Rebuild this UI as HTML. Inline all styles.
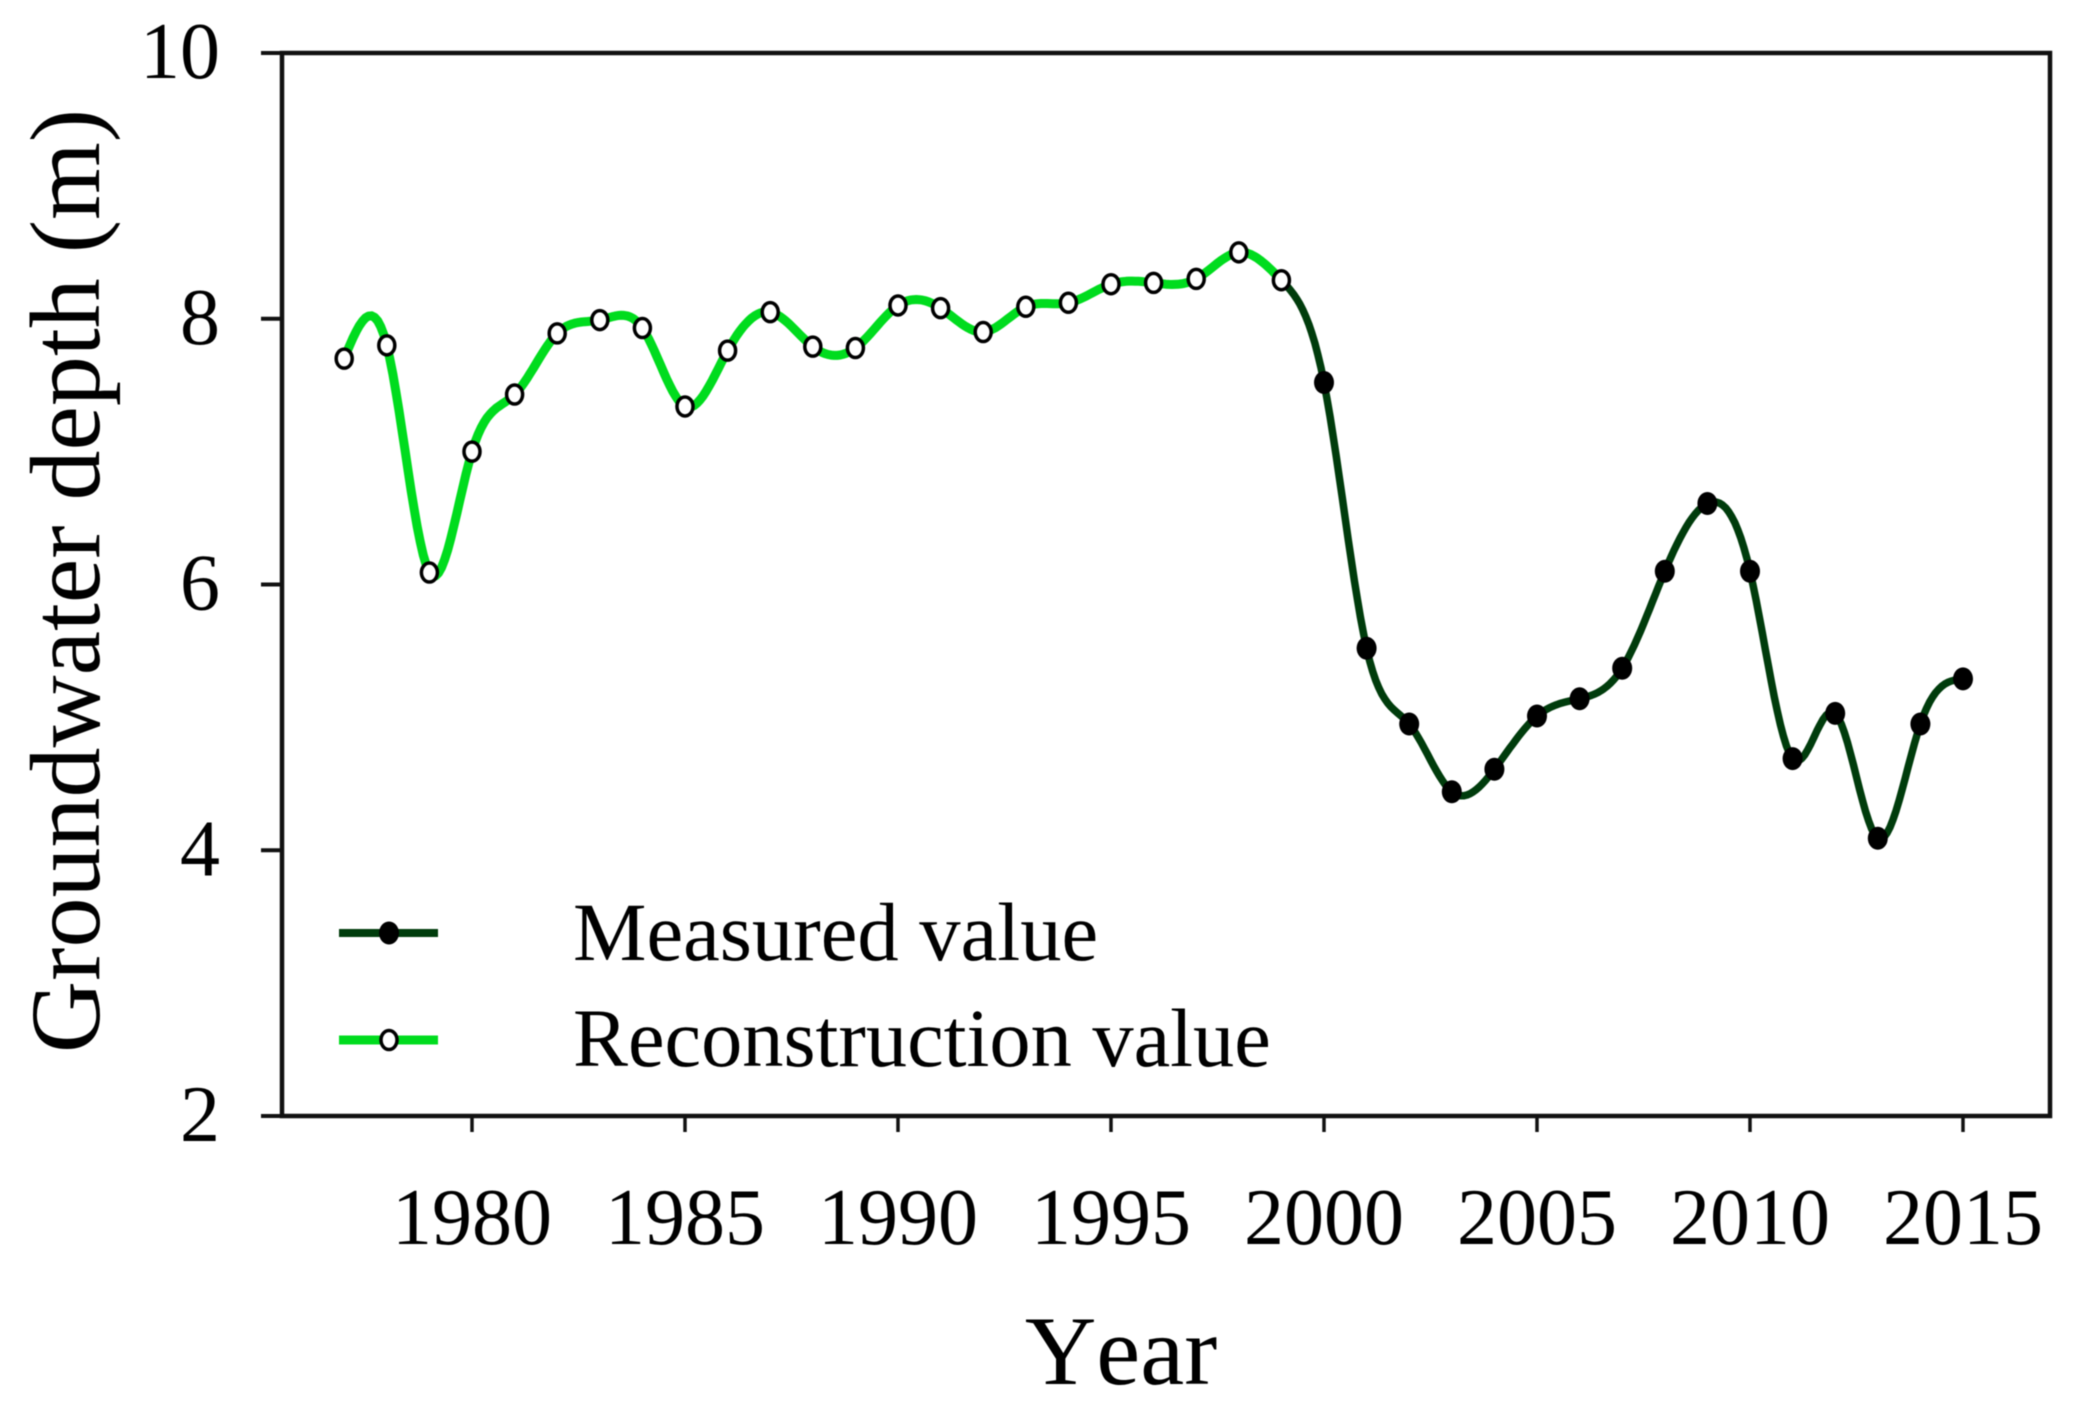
<!DOCTYPE html>
<html lang="en">
<head>
<meta charset="utf-8">
<title>Groundwater depth</title>
<style>
html,body{margin:0;padding:0;background:#fff;width:2074px;height:1409px;overflow:hidden}
svg{display:block;filter:blur(0.6px)}
text{font-family:"Liberation Serif",serif;fill:#000}
</style>
</head>
<body>
<svg id="chart" xmlns="http://www.w3.org/2000/svg" width="2074" height="1409" viewBox="0 0 2074 1409">
  <rect x="282" y="53" width="1768" height="1063" fill="#fff" stroke="#111" stroke-width="4.5"/>
  <g id="grid-ticks"></g>
  <g id="series"></g>
  <text transform="translate(99,581) rotate(-90)" text-anchor="middle" font-size="100">Groundwater depth (m)</text>
  <text x="1121" y="1384" text-anchor="middle" font-size="99" style="font-kerning:none">Year</text>
  <g>
    <g>
      <line x1="339" y1="933" x2="438" y2="933" stroke="#003c0c" stroke-width="8"/>
      <ellipse cx="389" cy="933" rx="10" ry="11.5" fill="#000"/>
      <text x="573" y="960" font-size="82.6">Measured value</text>
    </g>
    <g>
      <line x1="339" y1="1040" x2="438" y2="1040" stroke="#00dc1e" stroke-width="9"/>
      <ellipse cx="389" cy="1040" rx="8" ry="9.5" fill="#fff" stroke="#000" stroke-width="3.5"/>
      <text x="573" y="1066" font-size="82.4">Reconstruction value</text>
    </g>
  </g>
</svg>
<script>
const reconstructionYears = [1977,1978,1979,1980,1981,1982,1983,1984,1985,1986,1987,1988,1989,1990,1991,1992,1993,1994,1995,1996,1997,1998,1999];
const reconstructionValues = [7.70,7.80,6.09,7.00,7.43,7.89,7.99,7.93,7.34,7.76,8.05,7.79,7.78,8.10,8.08,7.90,8.09,8.12,8.26,8.27,8.30,8.50,8.29];
const measuredYears = [2000,2001,2002,2003,2004,2005,2006,2007,2008,2009,2010,2011,2012,2013,2014,2015];
const measuredValues = [7.52,5.52,4.95,4.44,4.61,5.01,5.14,5.37,6.10,6.61,6.10,4.69,5.03,4.09,4.95,5.29];
const xTickLabels = [1980,1985,1990,1995,2000,2005,2010,2015];
const yTickLabels = [2,4,6,8,10];

const SVG_NS = 'http://www.w3.org/2000/svg';
function xScale(year){ return 472 + (year - 1980) * 42.6; }
function yScale(v){ return 1116 - (v - 2) * 132.875; }

function make(tag, attrs, parent){
  const el = document.createElementNS(SVG_NS, tag);
  for (const k in attrs) el.setAttribute(k, attrs[k]);
  parent.appendChild(el);
  return el;
}

/* natural cubic spline through all points */
function spline(xs, ys){
  const n = xs.length, h = [], a = [0], c = new Array(n).fill(0), l = [1], mu = [0], z = [0];
  for (let i = 0; i < n - 1; i++) h.push(xs[i + 1] - xs[i]);
  for (let i = 1; i < n - 1; i++){
    a[i] = 3 * (ys[i + 1] - ys[i]) / h[i] - 3 * (ys[i] - ys[i - 1]) / h[i - 1];
    l[i] = 2 * (xs[i + 1] - xs[i - 1]) - h[i - 1] * mu[i - 1];
    mu[i] = h[i] / l[i];
    z[i] = (a[i] - h[i - 1] * z[i - 1]) / l[i];
  }
  for (let j = n - 2; j > 0; j--) c[j] = z[j] - mu[j] * c[j + 1];
  return function(x){
    let i = Math.min(n - 2, Math.max(0, xs.findIndex(v => v > x) - 1));
    if (x >= xs[n - 1]) i = n - 2;
    const d = x - xs[i];
    const b = (ys[i + 1] - ys[i]) / h[i] - h[i] * (c[i + 1] + 2 * c[i]) / 3;
    const e = (c[i + 1] - c[i]) / (3 * h[i]);
    return ys[i] + b * d + c[i] * d * d + e * d * d * d;
  };
}

const allYears = reconstructionYears.concat(measuredYears);
const allValues = reconstructionValues.concat(measuredValues);
const curve = spline(allYears, allValues);

function curvePath(from, to){
  const pts = [];
  const steps = (to - from) * 14;
  for (let i = 0; i <= steps; i++){
    const yr = from + (to - from) * i / steps;
    pts.push(xScale(yr).toFixed(1) + ',' + yScale(curve(yr)).toFixed(1));
  }
  return 'M' + pts.join('L');
}

const ticks = document.getElementById('grid-ticks');
const series = document.getElementById('series');

xTickLabels.forEach(function(t){
  const mark = make('line', {x1:xScale(t), x2:xScale(t), y1:1116, y2:1132, stroke:'#111', 'stroke-width':3.5}, ticks);
  
  
  const label = make('text', {x:xScale(t), y:1244, 'text-anchor':'middle', 'font-size':80}, ticks);
  label.textContent = t;
  
  
});

yTickLabels.forEach(function(t){
  const mark = make('line', {x1:261, x2:282, y1:yScale(t), y2:yScale(t), stroke:'#111', 'stroke-width':4}, ticks);
  
  
  const label = make('text', {x:220, y:yScale(t) + 25, 'text-anchor':'end', 'font-size':80}, ticks);
  label.textContent = t;
  
  
});

const lastRecon = reconstructionYears[reconstructionYears.length - 1];
const reconLine = make('path', {d:curvePath(reconstructionYears[0], lastRecon), fill:'none', stroke:'#00dc1e', 'stroke-width':9, 'stroke-linejoin':'round'}, series);



const measLine = make('path', {d:curvePath(lastRecon, measuredYears[measuredYears.length - 1]), fill:'none', stroke:'#003c0c', 'stroke-width':7.5, 'stroke-linejoin':'round'}, series);



measuredYears.forEach(function(yr, i){
  const dot = make('ellipse', {cx:xScale(yr), cy:yScale(measuredValues[i]), rx:10, ry:11.5, fill:'#000'}, series);
  
  
});

reconstructionYears.forEach(function(yr, i){
  const dot = make('ellipse', {cx:xScale(yr), cy:yScale(reconstructionValues[i]), rx:8, ry:9.5, fill:'#fff', stroke:'#000', 'stroke-width':3.5}, series);
  
  
});
</script>
</body>
</html>
